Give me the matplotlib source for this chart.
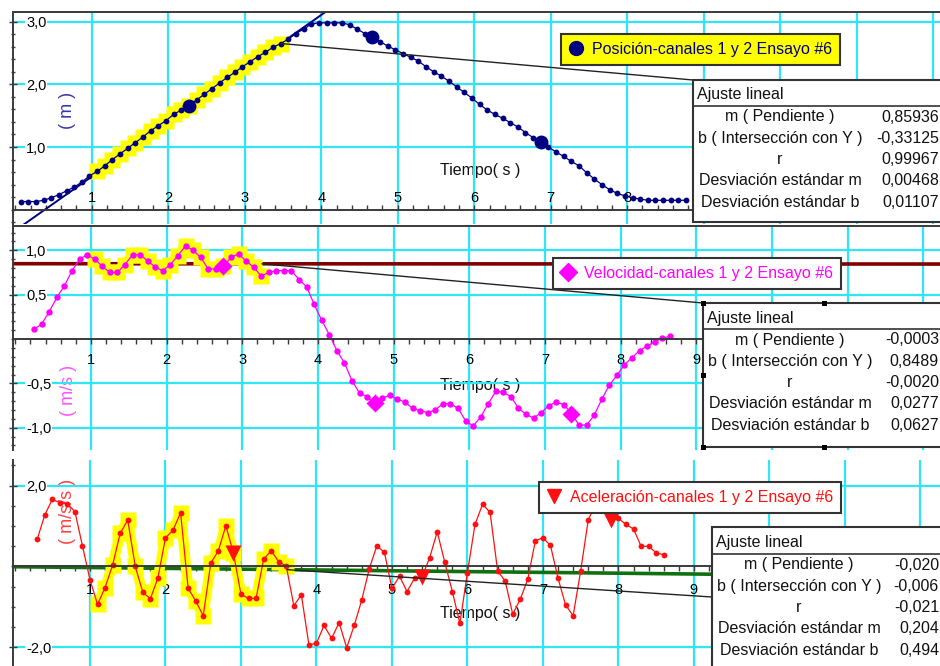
import numpy as np
import matplotlib.pyplot as plt
from matplotlib.patches import Rectangle, ConnectionPatch
from matplotlib.lines import Line2D
from matplotlib.ticker import MultipleLocator, FuncFormatter

plt.rcParams['font.family'] = ['Liberation Sans', 'DejaVu Sans']

W, H = 940, 666

# sampling: first time of each channel and step (s)
dt = 0.1
pos_t0, vel_t0, acc_t0 = 0.07, 0.25, 0.30

posicion = [0.13, 0.13, 0.13, 0.15, 0.19, 0.24, 0.30, 0.36, 0.44, 0.54,
            0.61, 0.70, 0.80, 0.89, 0.98, 1.07, 1.16, 1.26, 1.34, 1.42,
            1.52, 1.59, 1.66, 1.75, 1.84, 1.93, 2.02, 2.11, 2.19, 2.28,
            2.36, 2.44, 2.51, 2.59, 2.65, 2.72, 2.81, 2.88, 2.96, 2.98,
            2.98, 2.98, 2.98, 2.95, 2.88, 2.81, 2.76, 2.68, 2.61, 2.55,
            2.49, 2.43, 2.37, 2.28, 2.20, 2.13, 2.05, 1.96, 1.87, 1.78,
            1.68, 1.59, 1.52, 1.46, 1.39, 1.32, 1.23, 1.15, 1.08, 1.00,
            0.92, 0.85, 0.77, 0.70, 0.59, 0.49, 0.40, 0.32, 0.26, 0.22,
            0.19, 0.17, 0.15, 0.15, 0.15, 0.15, 0.15, 0.15]

velocidad = [0.11, 0.17, 0.31, 0.47, 0.60, 0.77, 0.90, 0.95, 0.90, 0.82,
             0.75, 0.75, 0.84, 0.95, 0.95, 0.88, 0.81, 0.77, 0.84, 0.94,
             1.05, 1.00, 0.92, 0.79, 0.79, 0.82, 0.92, 0.96, 0.88, 0.81,
             0.71, 0.75, 0.77, 0.77, 0.77, 0.67, 0.59, 0.39, 0.21, 0.05,
             -0.13, -0.27, -0.47, -0.61, -0.65, -0.72, -0.67, -0.63, -0.68, -0.71,
             -0.78, -0.81, -0.83, -0.80, -0.73, -0.73, -0.78, -0.92, -0.98, -0.88,
             -0.73, -0.59, -0.60, -0.65, -0.78, -0.85, -0.89, -0.83, -0.75, -0.71,
             -0.74, -0.84, -0.97, -0.97, -0.86, -0.68, -0.52, -0.41, -0.29, -0.21,
             -0.13, -0.08, -0.03, 0.01, 0.03]

aceleracion = [0.67, 1.27, 1.66, 1.58, 1.55, 1.36, 0.51, -0.33, -0.94, -0.52,
               0.04, 0.82, 1.15, 0.00, -0.64, -0.80, -0.28, 0.71, 0.90, 1.33,
               -0.54, -0.85, -1.22, 0.08, 0.39, 1.01, 0.33, -0.69, -0.79, -0.79,
               0.18, 0.39, 0.12, 0.01, -0.97, -0.70, -1.94, -1.90, -1.46, -1.78,
               -1.39, -2.01, -1.46, -0.83, -0.05, 0.51, 0.35, -0.54, -0.24, -0.62,
               -0.29, -0.25, 0.22, 0.86, 0.10, -0.62, -1.41, -0.15, 1.04, 1.54,
               1.34, -0.11, -0.36, -1.18, -0.81, -0.31, 0.64, 0.71, 0.52, -0.29,
               -0.95, -1.22, -0.11, 1.15, 1.55, 1.45, 1.15, 1.19, 1.04, 0.93,
               0.50, 0.50, 0.34, 0.29]

# points drawn with the big series symbol
pos_marks = [22, 46, 68]
vel_marks = [25, 45, 71]
acc_marks = [26, 51, 76]

# selected region of each linear fit (s)
pos_window = (1.02, 3.47)
vel_window = (1.00, 3.26)
acc_window = (1.05, 3.61)

# linear fits (slope, intercept)
pos_fit = (0.85936, -0.33125)
vel_fit = (-0.0003, 0.8489)
acc_fit = (-0.020, -0.006)

fit_labels = ['m ( Pendiente )', 'b ( Intersección con Y )', 'r',
              'Desviación estándar m', 'Desviación estándar b']
pos_stats = ['0,85936', '-0,33125', '0,99967', '0,00468', '0,01107']
vel_stats = ['-0,0003', '0,8489', '-0,0020', '0,0277', '0,0627']
acc_stats = ['-0,020', '-0,006', '-0,021', '0,204', '0,494']

NAVY = '#000080'
MAGENTA = '#ff00ff'
RED = '#ff1010'
CYAN = '#2ee6f6'
YELLOW = '#ffff00'
AXC = '#3a3a3a'

fig = plt.figure(figsize=(W / 100, H / 100), dpi=100)


def px_box(left, top, right, bottom):
    return [left / W, 1 - bottom / H, (right - left) / W, (bottom - top) / H]


def style_axes(ax, xlim, ylim, yticks, yminor, top_line, x_dir, x_pad, last_label):
    ax.set_xlim(xlim)
    ax.set_ylim(ylim)
    ax.spines['right'].set_visible(False)
    ax.spines['top'].set_visible(top_line)
    ax.spines['bottom'].set_position(('data', 0))
    for s in ('left', 'bottom', 'top'):
        ax.spines[s].set_color(AXC)
        ax.spines[s].set_linewidth(1.4)
    ax.xaxis.set_ticks_position('bottom')
    ax.yaxis.set_ticks_position('left')
    ax.set_xticks(range(1, 13))
    ax.xaxis.set_minor_locator(MultipleLocator(0.2))
    ax.set_yticks(yticks)
    ax.yaxis.set_minor_locator(MultipleLocator(yminor))
    # labels under the fit table are hidden anyway
    ax.xaxis.set_major_formatter(FuncFormatter(
        lambda v, p: f'{v:.0f}' if v <= last_label else ''))
    ax.yaxis.set_major_formatter(FuncFormatter(lambda v, p: f'{v:.1f}'.replace('.', ',')))
    ax.grid(True, which='major', color=CYAN, lw=1.6)
    ax.tick_params(axis='x', which='both', direction=x_dir, length=3.6, width=1,
                   color=AXC, labelsize=10.5, pad=x_pad)
    ax.tick_params(axis='y', which='major', direction='inout', length=6, width=1,
                   color=AXC, labelsize=10.5, pad=-12.4)
    ax.tick_params(axis='y', which='minor', direction='inout', length=3.5, width=1, color=AXC)
    for lab in ax.get_yticklabels():
        lab.set_horizontalalignment('left')
        lab.set_bbox(dict(fc='white', ec='none', pad=0.5))


def plot_channel(ax, t0, y, color, ms, big, big_ms, marks, fit, window, fit_color, fit_lw):
    t = t0 + dt * np.arange(len(y))
    y = np.asarray(y)
    tt = np.array([-0.5, 12.5])
    ax.plot(tt, fit[0] * tt + fit[1], color=fit_color, lw=fit_lw, zorder=2)
    sel = (t >= window[0]) & (t <= window[1])
    ax.plot(t[sel], y[sel], color=YELLOW, lw=7.5, marker='s', ms=11, mec='none', zorder=2.1)
    ax.plot(t, y, color=color, lw=0.9, marker='o', ms=ms, mec='none', zorder=2.2)
    ax.plot(t[marks], y[marks], ls='none', marker=big, ms=big_ms, color=color, mec='none', zorder=2.3)
    return window[1], fit[0] * window[1] + fit[1]


def connector(ax, start, end_px):
    con = ConnectionPatch(xyA=start, coordsA='data', axesA=ax,
                          xyB=(end_px[0] / W, 1 - end_px[1] / H), coordsB='figure fraction',
                          color='#222222', lw=1.0, zorder=3)
    ax.add_artist(con)


def add_legend(ax, marker, color, ms, label, face, anchor_px):
    h = Line2D([], [], ls='none', marker=marker, color=color, ms=ms)
    leg = ax.legend([h], [label], loc='upper left',
                    bbox_to_anchor=(anchor_px[0] / W, 1 - anchor_px[1] / H),
                    bbox_transform=fig.transFigure, borderaxespad=0, frameon=True,
                    fancybox=False, facecolor=face, edgecolor='#333333', framealpha=1,
                    fontsize=11.5, labelcolor=color, borderpad=0.5, handlelength=0.9,
                    handletextpad=0.55)
    leg.get_frame().set_linewidth(1.5)


def add_table(left, top, header_y, bottom, values, handles=False):
    fig.add_artist(Rectangle((left / W, 1 - bottom / H), (W + 20 - left) / W, (bottom - top) / H,
                             transform=fig.transFigure, fc='white', ec='#333333', lw=1.5, zorder=4))
    fig.add_artist(Line2D([left / W, 1.02], [1 - header_y / H] * 2, transform=fig.transFigure,
                          color='#333333', lw=1.2, zorder=4.1))
    fig.text((left + 4) / W, 1 - (header_y - 11) / H, 'Ajuste lineal', ha='left', va='center',
             fontsize=11.5, color='#111111', zorder=5)
    for k, (lab, val) in enumerate(zip(fit_labels, values)):
        yk = header_y + 11 + 21.3 * k
        fig.text((left + 87) / W, 1 - yk / H, lab, ha='center', va='center',
                 fontsize=11.5, color='#111111', zorder=5)
        fig.text(939 / W, 1 - yk / H, val, ha='right', va='center',
                 fontsize=11.5, color='#111111', zorder=5)
    if handles:
        right = left + 121
        mid = (top + bottom) / 2 + 0.5
        for hx, hy in [(left, top), (right, top), (left, mid), (left, bottom), (right, bottom)]:
            fig.add_artist(Rectangle(((hx - 2.5) / W, 1 - (hy + 2.5) / H), 5 / W, 5 / H,
                                     transform=fig.transFigure, fc='black', ec='none', zorder=4.5))


def axis_texts(ax, ylabel, ycolor, ylab_xy, xlab_y):
    ax.text(ylab_xy[0], ylab_xy[1], ylabel, transform=ax.transAxes, rotation=90,
            ha='center', va='center', fontsize=13, color=ycolor, zorder=1)
    ax.text(0.4606, xlab_y, 'Tiempo( s )', transform=ax.transAxes, ha='left',
            va='center', fontsize=11.5, color='#111111', zorder=1)


# ---- Posición ----
ax1 = fig.add_axes(px_box(13, 12, 940, 224))
style_axes(ax1, (-0.03, 12.09), (-0.228, 3.153), [1, 2, 3], 0.2, True, 'in', -13.5, 8)
end1 = plot_channel(ax1, pos_t0, posicion, NAVY, 4.2, 'o', 10, pos_marks, pos_fit,
                    pos_window, NAVY, 1.4)
connector(ax1, end1, (693, 80))
add_legend(ax1, 'o', NAVY, 10, 'Posición-canales 1 y 2 Ensayo #6', YELLOW, (561, 34))
axis_texts(ax1, '( m )', '#3a3aa8', (0.0593, 0.538), 0.25)

# ---- Velocidad ----
ax2 = fig.add_axes(px_box(13, 226, 940, 450))
style_axes(ax2, (-0.03, 12.22), (-1.251, 1.274), [-1.0, -0.5, 0.5, 1.0], 0.1, True, 'out', 6.5, 9)
end2 = plot_channel(ax2, vel_t0, velocidad, MAGENTA, 4.6, 'D', 9, vel_marks, vel_fit,
                    vel_window, '#800000', 2.6)
connector(ax2, end2, (703, 303))
add_legend(ax2, 'D', MAGENTA, 9, 'Velocidad-canales 1 y 2 Ensayo #6', 'white', (553, 258))
axis_texts(ax2, '( m/s )', '#ff55ff', (0.0604, 0.268), 0.29)

# ---- Aceleración ----
ax3 = fig.add_axes(px_box(13, 460, 940, 666))
style_axes(ax3, (-0.02, 12.26), (-2.463, 2.636), [-2.0, 2.0], 0.5, False, 'out', 8.3, 9)
end3 = plot_channel(ax3, acc_t0, aceleracion, RED, 4.2, 'v', 11, acc_marks, acc_fit,
                    acc_window, '#107010', 2.6)
connector(ax3, end3, (712, 597))
add_legend(ax3, 'v', RED, 10, 'Aceleración-canales 1 y 2 Ensayo #6', 'white', (539, 482))
axis_texts(ax3, '( m/s/s )', '#ff4040', (0.0583, 0.752), 0.257)

add_table(693, 80, 106, 222, pos_stats)
add_table(703, 303, 329, 447, vel_stats, handles=True)
add_table(712, 527, 554, 670, acc_stats)

fig.savefig('out.png', dpi=100)
